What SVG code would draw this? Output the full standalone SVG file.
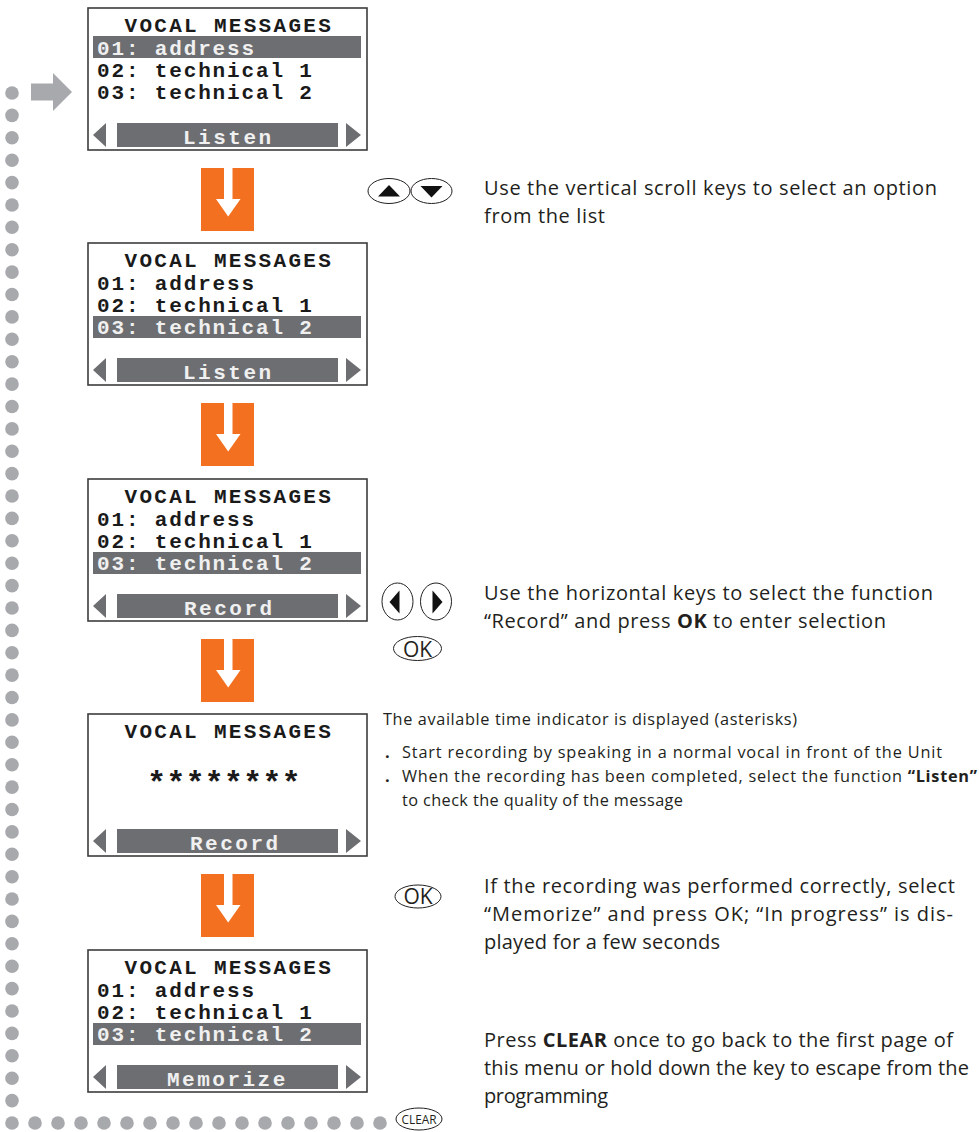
<svg xmlns="http://www.w3.org/2000/svg" width="979" height="1132" viewBox="0 0 979 1132">
<style>
.frame{fill:#fff;stroke:#3c3c3c;stroke-width:1.6}
.gr{fill:#6d6e71}
.mono{font-family:"Liberation Mono",monospace;font-weight:bold;font-size:21px;letter-spacing:1.85px;fill:#1a1a1a}
.ttl{letter-spacing:2.3px}
.bt{letter-spacing:2.5px}
.inv{fill:#f0f0f0}
.txt{font-family:"Open Sans","Noto Sans",sans-serif;font-size:20px;fill:#231f20}
.sm{font-size:16.3px}
.b{font-weight:bold}
.key{fill:#fff;stroke:#231f20;stroke-width:1}
.tri{fill:#111}
.dot{fill:#a7a9ac}
.orange{fill:#f37021}
.white{fill:#fff}
.keytxt{font-family:"Open Sans","Liberation Sans",sans-serif;fill:#231f20;text-anchor:middle}
</style>
<defs>
<g id="barShape">
<polygon class="gr" points="93,135 106,123 106,147"/>
<rect class="gr" x="117" y="123" width="221" height="24"/>
<polygon class="gr" points="346,123 361,135 346,147"/>
</g>
<g id="downArrow">
<rect class="orange" x="201" y="0" width="53" height="63"/>
<rect class="white" x="224" y="0" width="8.5" height="31.5"/>
<polygon class="white" points="216,31 240.5,31 228.2,48.5"/>
</g>
</defs>

<g id="connectors">
<g id="dotted-return">
<circle class="dot" cx="12" cy="93" r="6.8"/><circle class="dot" cx="12" cy="115.4" r="6.8"/><circle class="dot" cx="12" cy="137.8" r="6.8"/><circle class="dot" cx="12" cy="160.2" r="6.8"/><circle class="dot" cx="12" cy="182.6" r="6.8"/><circle class="dot" cx="12" cy="205" r="6.8"/><circle class="dot" cx="12" cy="227.3" r="6.8"/><circle class="dot" cx="12" cy="249.7" r="6.8"/><circle class="dot" cx="12" cy="272.1" r="6.8"/><circle class="dot" cx="12" cy="294.5" r="6.8"/><circle class="dot" cx="12" cy="316.9" r="6.8"/><circle class="dot" cx="12" cy="339.3" r="6.8"/><circle class="dot" cx="12" cy="361.7" r="6.8"/><circle class="dot" cx="12" cy="384.1" r="6.8"/><circle class="dot" cx="12" cy="406.5" r="6.8"/><circle class="dot" cx="12" cy="428.9" r="6.8"/><circle class="dot" cx="12" cy="451.2" r="6.8"/><circle class="dot" cx="12" cy="473.6" r="6.8"/><circle class="dot" cx="12" cy="496" r="6.8"/><circle class="dot" cx="12" cy="518.4" r="6.8"/><circle class="dot" cx="12" cy="540.8" r="6.8"/><circle class="dot" cx="12" cy="563.2" r="6.8"/><circle class="dot" cx="12" cy="585.6" r="6.8"/><circle class="dot" cx="12" cy="608" r="6.8"/><circle class="dot" cx="12" cy="630.4" r="6.8"/><circle class="dot" cx="12" cy="652.8" r="6.8"/><circle class="dot" cx="12" cy="675.1" r="6.8"/><circle class="dot" cx="12" cy="697.5" r="6.8"/><circle class="dot" cx="12" cy="719.9" r="6.8"/><circle class="dot" cx="12" cy="742.3" r="6.8"/><circle class="dot" cx="12" cy="764.7" r="6.8"/><circle class="dot" cx="12" cy="787.1" r="6.8"/><circle class="dot" cx="12" cy="809.5" r="6.8"/><circle class="dot" cx="12" cy="831.9" r="6.8"/><circle class="dot" cx="12" cy="854.3" r="6.8"/><circle class="dot" cx="12" cy="876.7" r="6.8"/><circle class="dot" cx="12" cy="899" r="6.8"/><circle class="dot" cx="12" cy="921.4" r="6.8"/><circle class="dot" cx="12" cy="943.8" r="6.8"/><circle class="dot" cx="12" cy="966.2" r="6.8"/><circle class="dot" cx="12" cy="988.6" r="6.8"/><circle class="dot" cx="12" cy="1011" r="6.8"/><circle class="dot" cx="12" cy="1033.4" r="6.8"/><circle class="dot" cx="12" cy="1055.8" r="6.8"/><circle class="dot" cx="12" cy="1078.2" r="6.8"/><circle class="dot" cx="12" cy="1100.6" r="6.8"/>
<circle class="dot" cx="12" cy="1123" r="6.8"/><circle class="dot" cx="35" cy="1123" r="6.8"/><circle class="dot" cx="58" cy="1123" r="6.8"/><circle class="dot" cx="81" cy="1123" r="6.8"/><circle class="dot" cx="104" cy="1123" r="6.8"/><circle class="dot" cx="127" cy="1123" r="6.8"/><circle class="dot" cx="150" cy="1123" r="6.8"/><circle class="dot" cx="173" cy="1123" r="6.8"/><circle class="dot" cx="196" cy="1123" r="6.8"/><circle class="dot" cx="219" cy="1123" r="6.8"/><circle class="dot" cx="242" cy="1123" r="6.8"/><circle class="dot" cx="265" cy="1123" r="6.8"/><circle class="dot" cx="288" cy="1123" r="6.8"/><circle class="dot" cx="311" cy="1123" r="6.8"/><circle class="dot" cx="334" cy="1123" r="6.8"/><circle class="dot" cx="357" cy="1123" r="6.8"/><circle class="dot" cx="380" cy="1123" r="6.8"/>
</g>
<g id="entry-arrow">
<rect class="dot" x="31" y="83.5" width="23" height="17"/>
<polygon class="dot" points="53,73 72,92 53,111"/>
</g>
<use href="#downArrow" transform="translate(0,168)"/>
<use href="#downArrow" transform="translate(0,403)"/>
<use href="#downArrow" transform="translate(0,639)"/>
<use href="#downArrow" transform="translate(0,874)"/>
</g>

<g id="screen1">
<rect class="frame" x="88" y="8" width="279" height="142"/>
<text class="mono ttl" x="124.5" y="32">VOCAL MESSAGES</text>
<rect class="gr" x="93" y="36" width="268" height="22"/>
<text class="mono inv" x="97" y="55">01: address</text>
<text class="mono" x="97" y="77">02: technical 1</text>
<text class="mono" x="97" y="99">03: technical 2</text>
<use href="#barShape"/>
<text class="mono inv bt" x="183" y="144">Listen</text>
</g>

<g id="screen2" transform="translate(0,235)">
<rect class="frame" x="88" y="8" width="279" height="142"/>
<text class="mono ttl" x="124.5" y="32">VOCAL MESSAGES</text>
<text class="mono" x="97" y="55">01: address</text>
<text class="mono" x="97" y="77">02: technical 1</text>
<rect class="gr" x="93" y="81" width="268" height="22"/>
<text class="mono inv" x="97" y="99">03: technical 2</text>
<use href="#barShape"/>
<text class="mono inv bt" x="183" y="144">Listen</text>
</g>

<g id="screen3" transform="translate(0,471)">
<rect class="frame" x="88" y="8" width="279" height="142"/>
<text class="mono ttl" x="124.5" y="32">VOCAL MESSAGES</text>
<text class="mono" x="97" y="55">01: address</text>
<text class="mono" x="97" y="77">02: technical 1</text>
<rect class="gr" x="93" y="81" width="268" height="22"/>
<text class="mono inv" x="97" y="99">03: technical 2</text>
<use href="#barShape"/>
<text class="mono inv bt" x="184" y="144">Record</text>
</g>

<g id="screen4" transform="translate(0,706)">
<rect class="frame" x="88" y="8" width="279" height="142"/>
<text class="mono ttl" x="124.5" y="32">VOCAL MESSAGES</text>
<text class="mono" x="147" y="87" style="font-size:32px;letter-spacing:0px">********</text>
<use href="#barShape"/>
<text class="mono inv bt" x="190" y="144">Record</text>
</g>

<g id="screen5" transform="translate(0,942)">
<rect class="frame" x="88" y="8" width="279" height="142"/>
<text class="mono ttl" x="124.5" y="32">VOCAL MESSAGES</text>
<text class="mono" x="97" y="55">01: address</text>
<text class="mono" x="97" y="77">02: technical 1</text>
<rect class="gr" x="93" y="81" width="268" height="22"/>
<text class="mono inv" x="97" y="99">03: technical 2</text>
<use href="#barShape"/>
<text class="mono inv bt" x="167" y="144">Memorize</text>
</g>

<g id="keys-updown">
<ellipse class="key" cx="389" cy="191" rx="21" ry="12.5"/>
<ellipse class="key" cx="431.5" cy="191" rx="20.5" ry="12.5"/>
<polygon class="tri" points="378,196.5 400,196.5 389,185"/>
<polygon class="tri" points="420.5,186 442.5,186 431.5,197.5"/>
</g>
<g id="note1">
<text class="txt" x="484" y="195" textLength="453">Use the vertical scroll keys to select an option</text>
<text class="txt" x="484" y="223" textLength="121">from the list</text>
</g>

<g id="keys-leftright">
<ellipse class="key" cx="397.5" cy="601.5" rx="15.5" ry="18.5"/>
<ellipse class="key" cx="436" cy="601.5" rx="15.5" ry="18.5"/>
<polygon class="tri" points="389.5,602 399.5,590.5 399.5,613.5"/>
<polygon class="tri" points="432.5,590.5 442.5,602 432.5,613.5"/>
<ellipse class="key" cx="417.5" cy="648.5" rx="24" ry="12"/>
<text class="keytxt" x="417.5" y="656.5" font-size="21">OK</text>
</g>
<g id="note2">
<text class="txt" x="484" y="600" textLength="449">Use the horizontal keys to select the function</text>
<text class="txt" x="484" y="628" textLength="402">“Record” and press <tspan class="b">OK</tspan> to enter selection</text>
</g>

<g id="note3">
<text class="txt sm" x="383" y="725" textLength="414">The available time indicator is displayed (asterisks)</text>
<text class="txt sm b" x="385" y="758">.</text>
<text class="txt sm" x="402" y="758" textLength="540">Start recording by speaking in a normal vocal in front of the Unit</text>
<text class="txt sm b" x="385" y="782">.</text>
<text class="txt sm" x="402" y="782" textLength="575">When the recording has been completed, select the function <tspan class="b">“Listen”</tspan></text>
<text class="txt sm" x="402" y="806" textLength="281">to check the quality of the message</text>
</g>

<g id="key-ok2">
<ellipse class="key" cx="418" cy="896.5" rx="23" ry="11.5"/>
<text class="keytxt" x="418" y="904" font-size="21">OK</text>
</g>
<g id="note4">
<text class="txt" x="484" y="893" textLength="471">If the recording was performed correctly, select</text>
<text class="txt" x="484" y="921" textLength="469">“Memorize” and press OK;  “In progress” is dis-</text>
<text class="txt" x="484" y="949" textLength="236">played for a few seconds</text>
</g>

<g id="key-clear">
<ellipse class="key" cx="419" cy="1119" rx="23" ry="11"/>
<text class="keytxt" x="419" y="1123.5" font-size="12" textLength="35" lengthAdjust="spacingAndGlyphs">CLEAR</text>
</g>
<g id="note5">
<text class="txt" x="484" y="1047" textLength="469">Press <tspan class="b">CLEAR</tspan> once to go back to the first page of</text>
<text class="txt" x="484" y="1075" textLength="485">this menu or hold down the key to escape from the</text>
<text class="txt" x="484" y="1103" textLength="124">programming</text>
</g>
</svg>
